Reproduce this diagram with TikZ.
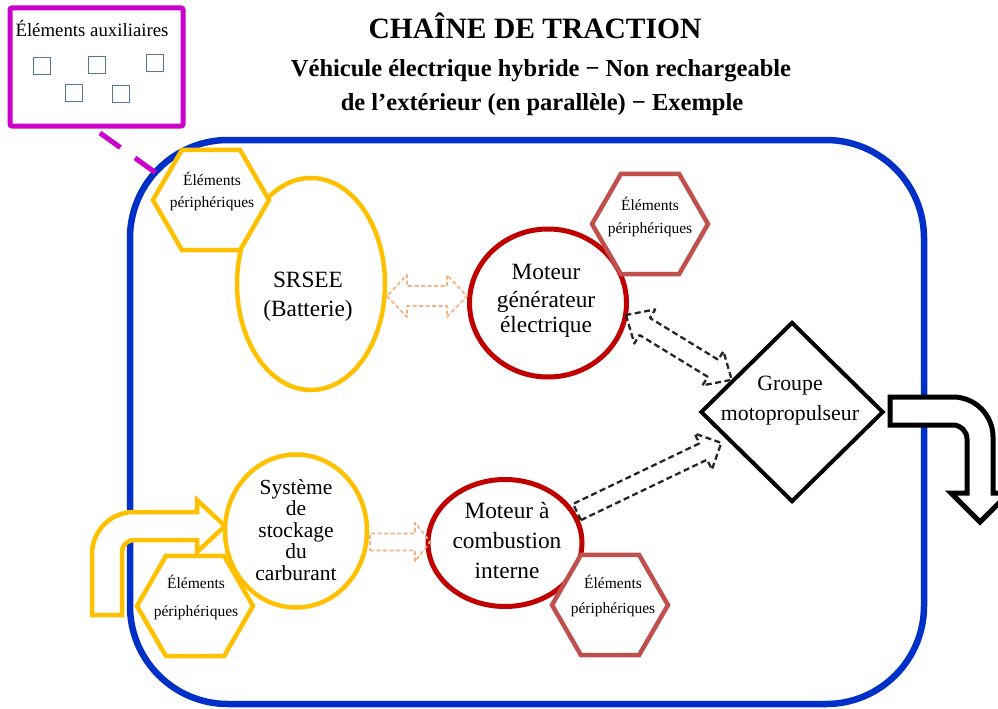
\documentclass[tikz,border=0pt]{standalone}
\usepackage{fontspec}
\setmainfont{Liberation Serif}
\usetikzlibrary{shapes.geometric}
\definecolor{ylw}{RGB}{255,192,0}
\definecolor{redc}{RGB}{192,0,0}
\definecolor{hexred}{RGB}{192,80,77}
\definecolor{frameblue}{RGB}{0,48,200}
\definecolor{purp}{RGB}{204,0,204}
\definecolor{lorange}{RGB}{244,177,131}
\definecolor{sqblue}{RGB}{85,115,155}
\begin{document}
\begin{tikzpicture}[x=1pt,y=-1pt,
  hexY/.style={regular polygon, regular polygon sides=6, minimum size=116pt, inner sep=0pt, draw=ylw, line width=4.5pt, fill=white},
  hexR/.style={regular polygon, regular polygon sides=6, minimum size=116pt, inner sep=0pt, draw=hexred, line width=4.5pt, fill=white},
  ellY/.style={ellipse, inner sep=0pt, draw=ylw, line width=4.5pt, fill=white},
  ellR/.style={ellipse, inner sep=0pt, draw=redc, line width=5pt, fill=white},
  sqbox/.style={rectangle, draw=sqblue, line width=1.8pt, minimum size=17pt, inner sep=0pt},
  big/.style={font=\fontsize{23.3}{27}\selectfont, anchor=base, inner sep=0pt},
  gmpt/.style={font=\fontsize{21.8}{26}\selectfont, anchor=base, inner sep=0pt},
  mid/.style={font=\fontsize{21.5}{24}\selectfont, anchor=base, inner sep=0pt},
  small/.style={font=\fontsize{15.5}{19}\selectfont, anchor=base, inner sep=0pt},
  blkdash/.style={draw=black!85, line width=2.3pt, dash pattern=on 6pt off 3.5pt, line join=round},
  orgdash/.style={draw=lorange, line width=1.7pt, dash pattern=on 4pt off 2.5pt, line join=round},
]
\useasboundingbox (0,0) rectangle (998,709);

% frame
\node[rectangle, rounded corners=98pt, draw=frameblue, line width=6.5pt, minimum width=794pt, minimum height=564pt, inner sep=0pt] (frame) at (527,422) {};

% auxiliary box
\node[rectangle, rounded corners=2pt, draw=purp, line width=5pt, minimum width=173pt, minimum height=118pt, inner sep=0pt] (aux) at (96.5,67) {};
\node[font=\fontsize{18.8}{22}\selectfont, anchor=base, inner sep=0pt] (auxt) at (92,37) {Éléments auxiliaires};
\node[sqbox] (sq1) at (42,66) {};
\node[sqbox] (sq2) at (97,65) {};
\node[sqbox] (sq3) at (155,63) {};
\node[sqbox] (sq4) at (74,93) {};
\node[sqbox] (sq5) at (121,94) {};
\coordinate (d1) at (100,133);
\coordinate (d2) at (156,173);
\draw[purp, line width=5pt, dash pattern=on 25pt off 18pt] (d1) -- (d2);

% fuel input arrow
\draw[draw=ylw, line width=4.5pt, fill=white, line join=miter]
  (92,615) -- (92,554) .. controls (92,530.8) and (110.8,512) .. (134,512)
  -- (197,512) -- (197,500) -- (225,526) -- (197,552) -- (197,540) -- (134,540)
  .. controls (127.4,540) and (122,545.4) .. (122,552) -- (122,615) -- cycle;

% output arrow
\draw[draw=black, line width=5pt, fill=white, line join=miter]
  (890,397) -- (953,397) .. controls (975.1,397) and (993,414.9) .. (993,437)
  -- (993,493) -- (1009,493) -- (980,522) -- (951,493) -- (967,493) -- (967,439)
  .. controls (967,431.3) and (960.7,425) .. (953,425) -- (890,425) -- cycle;

% ellipses / circles
\node[ellY, minimum width=148pt, minimum height=212pt] (srsee) at (311,284) {};
\node[ellR, minimum width=157pt, minimum height=148pt] (mge) at (548,303) {};
\node[ellY, minimum width=142pt, minimum height=153pt] (stock) at (296,531) {};
\node[ellR, minimum width=154pt, minimum height=127pt] (mci) at (505,543) {};

% hexagons
\node[hexY] (hex1) at (211,200) {};
\node[hexR] (hex2) at (650,224) {};
\node[hexR] (hex3) at (610,605) {};
\node[hexY] (hex4) at (195,606) {};

% diamond
\node[diamond, draw=black, line width=4pt, fill=white, minimum width=183pt, minimum height=180pt, inner sep=0pt] (gmp) at (792,412) {};

% block arrows
\coordinate (a1) at (387,296);
\begin{scope}[shift={(a1)}]
\draw[orgdash] (0,0) -- (20,21) -- (20,10) -- (60,10) -- (60,21) -- (80,0) -- (60,-21) -- (60,-10) -- (20,-10) -- (20,-21) -- cycle;
\end{scope}
\coordinate (a2) at (626,315);
\begin{scope}[shift={(a2)}, rotate=-31.5]
\draw[blkdash] (0,0) -- (22,20) -- (22,10) -- (102,10) -- (102,20) -- (124,0) -- (102,-20) -- (102,-10) -- (22,-10) -- (22,-20) -- cycle;
\end{scope}
\coordinate (a3) at (577,512);
\begin{scope}[shift={(a3)}, rotate=25.6]
\draw[blkdash] (0,9) -- (140,9) -- (140,20) -- (160,0) -- (140,-20) -- (140,-9) -- (0,-9) -- cycle;
\end{scope}
\coordinate (a4) at (370,542);
\begin{scope}[shift={(a4)}]
\draw[orgdash] (0,8.5) -- (45,8.5) -- (45,19.5) -- (60,0) -- (45,-19.5) -- (45,-8.5) -- (0,-8.5) -- cycle;
\end{scope}

% title
\node[font=\bfseries\fontsize{29.5}{34}\selectfont, anchor=base, inner sep=0pt] (title) at (535,38) {CHAÎNE DE TRACTION};
\node[font=\bfseries\fontsize{24.5}{29}\selectfont, anchor=base, inner sep=0pt] (sub1) at (541,77) {Véhicule électrique hybride − Non rechargeable};
\node[font=\bfseries\fontsize{24.5}{29}\selectfont, anchor=base, inner sep=0pt] (sub2) at (542,110) {de l’extérieur (en parallèle) − Exemple};

% texts
\node[big] (t1a) at (308,287) {SRSEE};
\node[big] (t1b) at (308,316) {(Batterie)};
\node[big] (t2a) at (546,279) {Moteur};
\node[big] (t2b) at (546,307) {générateur};
\node[big] (t2c) at (546,332) {électrique};
\node[gmpt] (t3a) at (790,390) {Groupe};
\node[gmpt] (t3b) at (790,420) {motopropulseur};
\node[mid] (t4a) at (296,494) {Système};
\node[mid] (t4b) at (296,515) {de};
\node[mid] (t4c) at (296,537) {stockage};
\node[mid] (t4d) at (296,558) {du};
\node[mid] (t4e) at (296,580) {carburant};
\node[big] (t5a) at (507,518) {Moteur à};
\node[big] (t5b) at (507,548) {combustion};
\node[big] (t5c) at (507,578) {interne};

\node[small] (h1a) at (212,185) {Éléments};
\node[small] (h1b) at (212,207) {périphériques};
\node[small] (h2a) at (650,210) {Éléments};
\node[small] (h2b) at (650,233) {périphériques};
\node[small] (h3a) at (613,588) {Éléments};
\node[small] (h3b) at (613,613) {périphériques};
\node[small] (h4a) at (196,588) {Éléments};
\node[small] (h4b) at (196,616) {périphériques};
\end{tikzpicture}
\end{document}
